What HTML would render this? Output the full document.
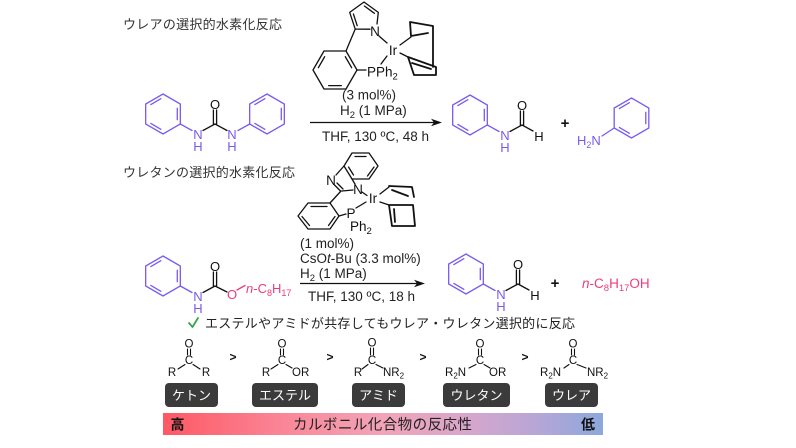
<!DOCTYPE html>
<html><head><meta charset="utf-8">
<style>
html,body{margin:0;padding:0;background:#fff;}
body{width:796px;height:448px;overflow:hidden;}
svg{display:block;}
text{font-family:"Liberation Sans","Noto Sans CJK JP",sans-serif;}
.jp{font-family:"Liberation Sans","Noto Sans CJK JP",sans-serif;}
</style></head>
<body>
<svg width="796" height="448" viewBox="0 0 796 448" xmlns="http://www.w3.org/2000/svg">
<defs>
<g id="ring">
<polygon points="0,-20 17.32,-10 17.32,10 0,20 -17.32,10 -17.32,-10" fill="none"/>
<line x1="-12.15" y1="-9.49" x2="-2.14" y2="-15.26"/>
<line x1="14.29" y1="-5.78" x2="14.29" y2="5.78"/>
<line x1="-2.14" y1="15.26" x2="-12.15" y2="9.49"/>
</g>
<linearGradient id="bar" x1="0" y1="0" x2="1" y2="0">
<stop offset="0" stop-color="#ff5864"/>
<stop offset="0.3" stop-color="#f98a9c"/>
<stop offset="0.5" stop-color="#f2a4b8"/>
<stop offset="0.7" stop-color="#d6a6cc"/>
<stop offset="0.85" stop-color="#b6a6d6"/>
<stop offset="1" stop-color="#8ca8dc"/>
</linearGradient>
</defs>

<!-- Titles -->
<text x="123" y="29" font-size="13" fill="#333" textLength="159">ウレアの選択的水素化反応</text>
<text x="123" y="177" font-size="13" fill="#333" textLength="172">ウレタンの選択的水素化反応</text>

<!-- Catalyst 1 -->
<g stroke="#111" stroke-width="1.3" fill="none" stroke-linecap="round" stroke-linejoin="round">
<polygon points="357,70 346,51 324,51 313,70 324,89 346,89"/>
<line x1="351.65" y1="67.66" x2="345.35" y2="56.74"/>
<line x1="324.65" y1="56.74" x2="318.35" y2="67.66"/>
<line x1="328.7" y1="85.6" x2="341.3" y2="85.6"/>
<polyline points="370,29.2 355.2,29.1 349.7,12.4 364,2 378.3,12.4 377,24"/>
<line x1="357.2" y1="25.7" x2="353.4" y2="14.0"/>
<line x1="364.4" y1="6.0" x2="374.4" y2="13.3"/>
<line x1="355.2" y1="29.1" x2="346" y2="51"/>
<line x1="357" y1="70" x2="366" y2="70"/>
<line x1="379" y1="36" x2="387" y2="43"/>
<line x1="381" y1="64" x2="387" y2="56"/>
<path d="M400,45 L411,37 M400,53 L408,57"/>
<path d="M410,22 L433,26 L433,67 M410,22 L411,36 L428,33 M408,57 L436,67 L436,75 L414,75 L408,57 M412,63 L431,69" stroke-width="1.8"/>
</g>
<g font-size="13.5" fill="#111">
<text x="375" y="36" text-anchor="middle">N</text>
<text x="393" y="55" text-anchor="middle">Ir</text>
<text x="367" y="76.5">PPh<tspan font-size="9.5" dy="3">2</tspan></text>
</g>

<!-- Conditions 1 -->
<g font-size="13.5" fill="#222">
<text x="342" y="99.5">(3 mol%)</text>
<text x="340" y="115">H<tspan font-size="9.5" dy="3">2</tspan><tspan dy="-3"> (1 MPa)</tspan></text>
<text x="322" y="141">THF, 130 ºC, 48 h</text>
</g>
<line x1="310" y1="122.5" x2="436" y2="122.5" stroke="#111" stroke-width="1.3"/>
<polygon points="442,122.5 431,118.8 434,122.5 431,126.2" fill="#111"/>

<!-- Urea reactant -->
<g stroke-width="1.3" stroke-linecap="round">
<use href="#ring" x="163" y="114" stroke="#785af0"/>
<use href="#ring" x="267" y="114" stroke="#785af0"/>
<line x1="180.3" y1="124" x2="192" y2="130.5" stroke="#785af0"/>
<line x1="203" y1="130.5" x2="215" y2="124" stroke="#111"/>
<line x1="213.4" y1="124" x2="213.4" y2="110" stroke="#111"/>
<line x1="216.6" y1="124" x2="216.6" y2="110" stroke="#111"/>
<line x1="215" y1="124" x2="227" y2="130.5" stroke="#111"/>
<line x1="238" y1="130.5" x2="249.7" y2="124" stroke="#785af0"/>
</g>
<g font-size="13" text-anchor="middle">
<text x="198" y="139" fill="#785af0">N</text>
<text x="198" y="151" fill="#785af0">H</text>
<text x="232" y="139" fill="#785af0">N</text>
<text x="232" y="151" fill="#785af0">H</text>
<text x="215" y="109" fill="#111">O</text>
</g>

<!-- Product 1 -->
<g stroke-width="1.3" stroke-linecap="round">
<use href="#ring" x="470" y="115" stroke="#785af0"/>
<line x1="487.3" y1="125" x2="499" y2="131.5" stroke="#785af0"/>
<line x1="510" y1="131.5" x2="522" y2="125" stroke="#111"/>
<line x1="520.4" y1="125" x2="520.4" y2="111" stroke="#111"/>
<line x1="523.6" y1="125" x2="523.6" y2="111" stroke="#111"/>
<line x1="522" y1="125" x2="533" y2="131" stroke="#111"/>
<use href="#ring" x="631.5" y="118" stroke="#785af0"/>
<line x1="602" y1="136" x2="614.2" y2="128" stroke="#785af0"/>
</g>
<g font-size="13" text-anchor="middle">
<text x="505" y="140" fill="#785af0">N</text>
<text x="505" y="152" fill="#785af0">H</text>
<text x="522" y="110" fill="#111">O</text>
<text x="539" y="141" fill="#111">H</text>
</g>
<text x="565" y="128" font-size="15" font-weight="bold" text-anchor="middle" fill="#111">+</text>
<text x="577" y="145" font-size="13" fill="#785af0">H<tspan font-size="9" dy="3">2</tspan><tspan dy="-3">N</tspan></text>

<!-- Catalyst 2 -->
<g stroke="#111" stroke-width="1.3" fill="none" stroke-linecap="round" stroke-linejoin="round">
<polygon points="344,166 352,153 369,153 378,166 369,179 352,179"/>
<line x1="355" y1="156.5" x2="366" y2="156.5"/>
<line x1="374" y1="167" x2="367.5" y2="176"/>
<line x1="348.5" y1="167" x2="353.5" y2="175"/>
<line x1="344" y1="166" x2="336" y2="175"/>
<line x1="334.5" y1="185" x2="340.5" y2="191"/>
<line x1="337" y1="183" x2="343" y2="189"/>
<line x1="342" y1="191" x2="353" y2="190"/>
<line x1="352" y1="179" x2="355" y2="184"/>
<polygon points="298,216 308,203 330,203 339,216 330,229 308,229"/>
<line x1="311" y1="206.5" x2="327" y2="206.5"/>
<line x1="335" y1="216.5" x2="328.5" y2="225.5"/>
<line x1="309.5" y1="225.5" x2="302" y2="216.5"/>
<line x1="341" y1="191" x2="330" y2="203"/>
<line x1="339" y1="216" x2="346" y2="214"/>
<line x1="362" y1="192" x2="367" y2="195.5"/>
<line x1="356" y1="208" x2="366" y2="202"/>
<path d="M380,194 L389,187 M380,202 L389,205"/>
<path d="M389,186 L412,187 L414,197 M392,190 L408,196 M389,205 L413,205 L415,226 L392,226 L389,205 M394,209 L395,222" stroke-width="1.8"/>
</g>
<g font-size="13.5" fill="#111">
<text x="331" y="185" text-anchor="middle">N</text>
<text x="358" y="194" text-anchor="middle">N</text>
<text x="373" y="203" text-anchor="middle">Ir</text>
<text x="351" y="218" text-anchor="middle">P</text>
<text x="350" y="231">Ph<tspan font-size="9.5" dy="3">2</tspan></text>
</g>

<!-- Conditions 2 -->
<g font-size="13.5" fill="#222">
<text x="300" y="248">(1 mol%)</text>
<text x="300" y="263">CsO<tspan font-style="italic">t</tspan>-Bu (3.3 mol%)</text>
<text x="300" y="278">H<tspan font-size="9.5" dy="3">2</tspan><tspan dy="-3"> (1 MPa)</tspan></text>
<text x="308" y="301">THF, 130 ºC, 18 h</text>
</g>
<line x1="300" y1="283.5" x2="419" y2="283.5" stroke="#111" stroke-width="1.3"/>
<polygon points="425,283.5 414,279.8 417,283.5 414,287.2" fill="#111"/>

<!-- Urethane reactant -->
<g stroke-width="1.3" stroke-linecap="round">
<use href="#ring" x="163" y="276" stroke="#785af0"/>
<line x1="180.3" y1="286" x2="192" y2="292.5" stroke="#785af0"/>
<line x1="203" y1="292.5" x2="215" y2="286" stroke="#111"/>
<line x1="213.4" y1="286" x2="213.4" y2="272" stroke="#111"/>
<line x1="216.6" y1="286" x2="216.6" y2="272" stroke="#111"/>
<line x1="215" y1="286" x2="227" y2="292" stroke="#111"/>
<line x1="237" y1="290" x2="245" y2="285.5" stroke="#ee3c78"/>
</g>
<g font-size="13" text-anchor="middle">
<text x="198" y="301" fill="#785af0">N</text>
<text x="198" y="313" fill="#785af0">H</text>
<text x="215" y="271" fill="#111">O</text>
<text x="232" y="299" fill="#ee3c78">O</text>
</g>
<text x="246" y="293" font-size="13" fill="#ee3c78"><tspan font-style="italic">n</tspan>-C<tspan font-size="9" dy="3">8</tspan><tspan dy="-3">H</tspan><tspan font-size="9" dy="3">17</tspan></text>

<!-- Product 2 -->
<g stroke-width="1.3" stroke-linecap="round">
<use href="#ring" x="466" y="274" stroke="#785af0"/>
<line x1="483.3" y1="284" x2="495" y2="290.5" stroke="#785af0"/>
<line x1="506" y1="290.5" x2="518" y2="284" stroke="#111"/>
<line x1="516.4" y1="284" x2="516.4" y2="270" stroke="#111"/>
<line x1="519.6" y1="284" x2="519.6" y2="270" stroke="#111"/>
<line x1="518" y1="284" x2="529" y2="290" stroke="#111"/>
</g>
<g font-size="13" text-anchor="middle">
<text x="501" y="299" fill="#785af0">N</text>
<text x="501" y="311" fill="#785af0">H</text>
<text x="518" y="269" fill="#111">O</text>
<text x="535" y="300" fill="#111">H</text>
</g>
<text x="555" y="288" font-size="15" font-weight="bold" text-anchor="middle" fill="#111">+</text>
<text x="582" y="288" font-size="13.5" fill="#ee3c78"><tspan font-style="italic">n</tspan>-C<tspan font-size="9.5" dy="3">8</tspan><tspan dy="-3">H</tspan><tspan font-size="9.5" dy="3">17</tspan><tspan dy="-3">OH</tspan></text>

<!-- Check line -->
<path d="M189,323 L192.5,327 L198,318" stroke="#3aa54a" stroke-width="1.8" fill="none" stroke-linecap="round" stroke-linejoin="round"/>
<text x="205" y="328" font-size="13" fill="#222" textLength="370">エステルやアミドが共存してもウレア・ウレタン選択的に反応</text>

<!-- Mini structures -->
<g stroke="#111" stroke-width="1.1" stroke-linecap="round">
<line x1="187.5" y1="349" x2="187.5" y2="355"/><line x1="190.5" y1="349" x2="190.5" y2="355"/>
<line x1="178" y1="369" x2="185" y2="364.5"/><line x1="193" y1="364.5" x2="200" y2="369"/>
<line x1="280.5" y1="349" x2="280.5" y2="355"/><line x1="283.5" y1="349" x2="283.5" y2="355"/>
<line x1="271" y1="369" x2="278" y2="364.5"/><line x1="286" y1="364.5" x2="292" y2="368"/>
<line x1="370.5" y1="348" x2="370.5" y2="355"/><line x1="373.5" y1="348" x2="373.5" y2="355"/>
<line x1="362" y1="369" x2="368" y2="364.5"/><line x1="376" y1="364.5" x2="383" y2="368"/>
<line x1="478.5" y1="349" x2="478.5" y2="355"/><line x1="481.5" y1="349" x2="481.5" y2="355"/>
<line x1="469" y1="368" x2="476" y2="364.5"/><line x1="484" y1="364.5" x2="490" y2="368"/>
<line x1="571.5" y1="349" x2="571.5" y2="355"/><line x1="574.5" y1="349" x2="574.5" y2="355"/>
<line x1="564" y1="368" x2="569" y2="364.5"/><line x1="577" y1="364.5" x2="586" y2="368"/>
</g>
<g font-size="11.5" fill="#111">
<text x="189" y="347.5" text-anchor="middle">O</text>
<text x="189" y="364" text-anchor="middle">C</text>
<text x="172" y="376" text-anchor="middle">R</text>
<text x="206" y="376" text-anchor="middle">R</text>

<text x="282" y="347.5" text-anchor="middle">O</text>
<text x="282" y="364" text-anchor="middle">C</text>
<text x="266" y="376" text-anchor="middle">R</text>
<text x="292" y="376">OR</text>

<text x="372" y="346.5" text-anchor="middle">O</text>
<text x="372" y="364" text-anchor="middle">C</text>
<text x="358" y="376" text-anchor="middle">R</text>
<text x="383" y="376">NR<tspan font-size="8" dy="2.5">2</tspan></text>

<text x="480" y="347.5" text-anchor="middle">O</text>
<text x="480" y="364" text-anchor="middle">C</text>
<text x="445" y="376">R<tspan font-size="8" dy="2.5">2</tspan><tspan dy="-2.5">N</tspan></text>
<text x="489" y="376">OR</text>

<text x="573" y="347.5" text-anchor="middle">O</text>
<text x="573" y="364" text-anchor="middle">C</text>
<text x="540" y="376">R<tspan font-size="8" dy="2.5">2</tspan><tspan dy="-2.5">N</tspan></text>
<text x="587" y="376">NR<tspan font-size="8" dy="2.5">2</tspan></text>
</g>
<g font-size="12" font-weight="bold" fill="#111" text-anchor="middle">
<text x="233" y="361">&gt;</text>
<text x="330" y="361">&gt;</text>
<text x="423" y="361">&gt;</text>
<text x="525" y="361">&gt;</text>
</g>

<!-- Label boxes -->
<g fill="#3b3b3b">
<rect x="165" y="383" width="53" height="24" rx="4"/>
<rect x="252" y="383" width="66" height="24" rx="4"/>
<rect x="352" y="383" width="53" height="24" rx="4"/>
<rect x="443" y="383" width="67" height="24" rx="4"/>
<rect x="545" y="383" width="53" height="24" rx="4"/>
</g>
<g font-size="13" fill="#fff" text-anchor="middle">
<text x="191.5" y="400">ケトン</text>
<text x="285" y="400">エステル</text>
<text x="378.5" y="400">アミド</text>
<text x="476.5" y="400">ウレタン</text>
<text x="571.5" y="400">ウレア</text>
</g>

<!-- Gradient bar -->
<rect x="163" y="413" width="440" height="22" fill="url(#bar)"/>
<text x="177.5" y="429.5" font-size="14" font-weight="bold" fill="#111" text-anchor="middle">高</text>
<text x="293" y="429.5" font-size="14.5" fill="#222" textLength="179">カルボニル化合物の反応性</text>
<text x="588" y="429.5" font-size="14" font-weight="bold" fill="#111" text-anchor="middle">低</text>
</svg>
</body></html>
